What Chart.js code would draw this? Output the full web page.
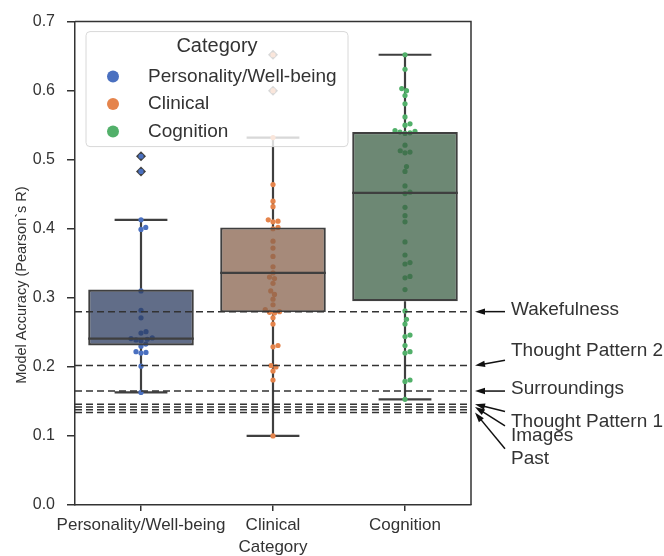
<!DOCTYPE html>
<html><head><meta charset="utf-8">
<script src="https://cdn.jsdelivr.net/npm/chart.js@4.4.0/dist/chart.umd.min.js"></script>
<style>html,body{margin:0;padding:0;background:#fff;overflow:hidden}</style>
</head><body>
<canvas id="c" width="664" height="556" style="display:block;width:664px;height:556px"></canvas>
<script>
// ---------- data ----------
const categories = ['Personality/Well-being', 'Clinical', 'Cognition'];
const personalityValues = [0.505, 0.483, 0.413, 0.402, 0.399, 0.310, 0.282, 0.271, 0.251, 0.249, 0.242, 0.241, 0.240, 0.239, 0.238, 0.233, 0.230, 0.222, 0.221, 0.220, 0.201, 0.163];
const clinicalValues = [0.652, 0.600, 0.532, 0.464, 0.440, 0.432, 0.413, 0.411, 0.410, 0.402, 0.400, 0.382, 0.372, 0.360, 0.345, 0.336, 0.330, 0.328, 0.321, 0.310, 0.305, 0.298, 0.290, 0.283, 0.280, 0.279, 0.278, 0.271, 0.262, 0.231, 0.229, 0.202, 0.200, 0.194, 0.181, 0.100];
const cognitionValues = [0.652, 0.631, 0.603, 0.600, 0.593, 0.581, 0.562, 0.552, 0.550, 0.542, 0.541, 0.540, 0.539, 0.538, 0.521, 0.513, 0.511, 0.510, 0.490, 0.483, 0.462, 0.453, 0.451, 0.431, 0.419, 0.410, 0.381, 0.362, 0.351, 0.349, 0.331, 0.329, 0.312, 0.281, 0.269, 0.262, 0.246, 0.244, 0.231, 0.222, 0.220, 0.181, 0.179, 0.153];
const boxQ1 = [0.231, 0.279, 0.295];
const boxMedian = [0.241, 0.336, 0.452];
const boxQ3 = [0.312, 0.402, 0.540];
const whiskerLow = [0.163, 0.100, 0.153];
const whiskerHigh = [0.413, 0.532, 0.652];
const fliers = [[0.505, 0.483], [0.652, 0.600], []];
const refValues = [0.280, 0.202, 0.165, 0.146, 0.142, 0.138, 0.134];
const refLabels = ['Wakefulness', 'Thought Pattern 2', 'Surroundings', 'Thought Pattern 1', 'Images', '', 'Past'];
const refLabelY = [0.283, 0.224, 0.168, 0.121, 0.100, null, 0.067];
const yTickValues = [0, 0.1, 0.2, 0.3, 0.4, 0.5, 0.6, 0.7];

// ---------- styles ----------
const FONT = 'Liberation Sans, Arial, Helvetica, sans-serif';
const TXT = '#333333';
const pointColors = ['#4a70c0', '#e5844c', '#52b06a'];
const boxColors = ['rgba(44,60,96,0.75)', 'rgba(136,99,78,0.75)', 'rgba(60,96,70,0.75)'];
const LINE = '#3f3f3f';
const BOX_W = 0.8;
Chart.defaults.font.family = FONT;

const allValues = [personalityValues, clinicalValues, cognitionValues];

const whiskerData = [];
const medianData = [];
categories.forEach((c, i) => {
  const ch = BOX_W / 4;
  whiskerData.push({x: i, y: whiskerLow[i]}, {x: i, y: boxQ1[i]}, {x: i, y: null},
                   {x: i, y: boxQ3[i]}, {x: i, y: whiskerHigh[i]}, {x: i, y: null},
                   {x: i - ch, y: whiskerLow[i]}, {x: i + ch, y: whiskerLow[i]}, {x: i, y: null},
                   {x: i - ch, y: whiskerHigh[i]}, {x: i + ch, y: whiskerHigh[i]}, {x: i, y: null});
  medianData.push({x: i - BOX_W / 2, y: boxMedian[i]}, {x: i + BOX_W / 2, y: boxMedian[i]}, {x: i, y: null});
});
const flierData = [];
fliers.forEach((arr, i) => arr.forEach(v => flierData.push({x: i, y: v})));
const refData = [];
refValues.forEach(v => refData.push({x: -0.5, y: v}, {x: 2.5, y: v}, {x: 0, y: null}));

const datasets = [];
datasets.push({type: 'line', label: 'whiskers', data: whiskerData, borderColor: LINE, borderWidth: 2.2,
  pointRadius: 0, fill: false, spanGaps: false, order: 6});
datasets.push({type: 'scatter', label: 'fliers', data: flierData, pointStyle: 'rectRot', pointRadius: 5,
  backgroundColor: LINE, borderColor: LINE, borderWidth: 0, order: 5});
categories.forEach((c, i) => datasets.push({type: 'scatter', label: c,
  data: allValues[i].map(v => ({x: i, y: v})), backgroundColor: pointColors[i], borderWidth: 0,
  pointRadius: 2.6, order: 4}));
datasets.push({type: 'bar', label: 'boxes', data: categories.map((c, i) => ({x: i, y: [boxQ1[i], boxQ3[i]]})),
  backgroundColor: boxColors, borderColor: LINE, borderWidth: 2.2, borderSkipped: false,
  barPercentage: BOX_W, categoryPercentage: 1, order: 3});
datasets.push({type: 'line', label: 'refs', data: refData, borderColor: '#333', borderWidth: 1.5,
  borderDash: [7, 4], pointRadius: 0, fill: false, spanGaps: false, order: 2});
datasets.push({type: 'line', label: 'medians', data: medianData, borderColor: LINE, borderWidth: 2.2,
  pointRadius: 0, fill: false, spanGaps: false, order: 1});

const framePlugin = {
  id: 'frame',
  afterDatasetsDraw(chart) {
    const {ctx, chartArea: a} = chart;
    ctx.save();
    ctx.strokeStyle = '#333'; ctx.lineWidth = 1.5;
    ctx.beginPath();
    ctx.moveTo(a.left, a.top); ctx.lineTo(a.right, a.top); ctx.lineTo(a.right, a.bottom);
    ctx.stroke();
    ctx.restore();
  }
};

const annotPlugin = {
  id: 'annot',
  afterDraw(chart) {
    const {ctx, chartArea: a, scales: {y}} = chart;
    ctx.save();
    ctx.font = '19px ' + FONT;
    ctx.textBaseline = 'middle';
    ctx.textAlign = 'left';
    refLabels.forEach((lab, i) => {
      if (!lab) return;
      const tipX = a.right + 4, tipY = y.getPixelForValue(refValues[i]);
      const ty = y.getPixelForValue(refLabelY[i]);
      const d = Math.max(-10, Math.min(10, tipY - ty));
      const tailX = a.right + 34, tailY = ty + d;
      const ang = Math.atan2(tipY - tailY, tipX - tailX);
      const hl = 10, hw = 3.2;
      ctx.strokeStyle = '#111'; ctx.fillStyle = '#111'; ctx.lineWidth = 1.5;
      ctx.beginPath();
      ctx.moveTo(tailX, tailY);
      ctx.lineTo(tipX - Math.cos(ang) * hl * 0.8, tipY - Math.sin(ang) * hl * 0.8);
      ctx.stroke();
      ctx.beginPath();
      ctx.moveTo(tipX, tipY);
      ctx.lineTo(tipX - Math.cos(ang) * hl - Math.sin(ang) * hw, tipY - Math.sin(ang) * hl + Math.cos(ang) * hw);
      ctx.lineTo(tipX - Math.cos(ang) * hl + Math.sin(ang) * hw, tipY - Math.sin(ang) * hl - Math.cos(ang) * hw);
      ctx.closePath();
      ctx.fill();
      ctx.fillStyle = TXT;
      ctx.fillText(lab, a.right + 40, ty);
    });
    ctx.restore();
  }
};

const legendPlugin = {
  id: 'boxLegend',
  afterDraw(chart) {
    const {ctx, chartArea: a} = chart;
    const x0 = a.left + 11, y0 = a.top + 10, w = 262, h = 115;
    ctx.save();
    ctx.beginPath();
    ctx.roundRect(x0, y0, w, h, 4);
    ctx.fillStyle = 'rgba(255,255,255,0.8)';
    ctx.fill();
    ctx.strokeStyle = '#d8d8d8'; ctx.lineWidth = 1;
    ctx.stroke();
    ctx.fillStyle = TXT;
    ctx.textBaseline = 'middle';
    ctx.textAlign = 'center';
    ctx.font = '20px ' + FONT;
    ctx.fillText('Category', x0 + w / 2, y0 + 15);
    ctx.textAlign = 'left';
    ctx.font = '19px ' + FONT;
    categories.forEach((c, i) => {
      const yy = y0 + 45 + i * 27.5;
      ctx.beginPath();
      ctx.arc(x0 + 27, yy, 6, 0, Math.PI * 2);
      ctx.fillStyle = pointColors[i];
      ctx.fill();
      ctx.fillStyle = TXT;
      ctx.fillText(c, x0 + 62, yy);
    });
    ctx.restore();
  }
};

const chart = new Chart(document.getElementById('c'), {
  type: 'scatter',
  data: {datasets},
  options: {
    responsive: false,
    animation: false,
    devicePixelRatio: 1,
    layout: {padding: {top: 15, right: 193, left: 0, bottom: 0}},
    plugins: {legend: {display: false}, tooltip: {enabled: false}},
    scales: {
      x: {
        type: 'linear', min: -0.5, max: 2.5, offset: false,
        afterBuildTicks: s => { s.ticks = categories.map((c, i) => ({value: i})); },
        afterFit: s => { s.height = 51; },
        ticks: {callback: v => categories[v] ?? '', font: {size: 17}, color: TXT,
          maxRotation: 0, minRotation: 0, autoSkip: false, padding: 4},
        grid: {display: true, offset: false, drawOnChartArea: false, drawTicks: true, tickLength: 6, color: '#333', lineWidth: 1.5},
        border: {display: true, color: '#333', width: 1.5},
        title: {display: true, text: 'Category', font: {size: 17}, color: TXT, padding: {top: 0, bottom: -2}}
      },
      y: {
        type: 'linear', min: 0, max: 0.7,
        afterBuildTicks: s => { s.ticks = yTickValues.map(v => ({value: v})); },
        afterFit: s => { s.width = 75; },
        ticks: {callback: v => Number(v).toFixed(1), font: {size: 16}, color: TXT, padding: 12},
        grid: {display: true, drawOnChartArea: false, drawTicks: true, tickLength: 8, color: '#333', lineWidth: 1.5},
        border: {display: true, color: '#333', width: 1.5},
        title: {display: true, text: 'Model Accuracy (Pearson`s R)\u2002\u2002\u2002\u2002\u2002\u2002', font: {size: 14.5}, color: TXT, padding: {top: 13, bottom: 0}}
      }
    }
  },
  plugins: [framePlugin, annotPlugin, legendPlugin]
});

// beeswarm placement computed through the chart's own scales
function swarm(values, idx, diam) {
  const xs = chart.scales.x, ys = chart.scales.y;
  const cx = xs.getPixelForValue(idx);
  const order = values.map((v, k) => k).sort((a, b) => values[a] - values[b]);
  const placed = [];
  const out = new Array(values.length);
  for (const k of order) {
    const py = ys.getPixelForValue(values[k]);
    let best = 0;
    for (let s = 0; s < 400; s++) {
      const cands = s === 0 ? [0] : [s * 0.25, -s * 0.25];
      let found = null;
      for (const off of cands) {
        if (placed.every(p => (p.x - off) ** 2 + (p.y - py) ** 2 >= diam * diam - 1e-6)) { found = off; break; }
      }
      if (found !== null) { best = found; break; }
    }
    placed.push({x: best, y: py});
    out[k] = {x: xs.getValueForPixel(cx + best), y: values[k]};
  }
  return out;
}
categories.forEach((c, i) => {
  const ds = chart.data.datasets.find(d => d.label === c);
  ds.data = swarm(allValues[i], i, 5);
});
chart.update('none');
</script>
</body></html>
